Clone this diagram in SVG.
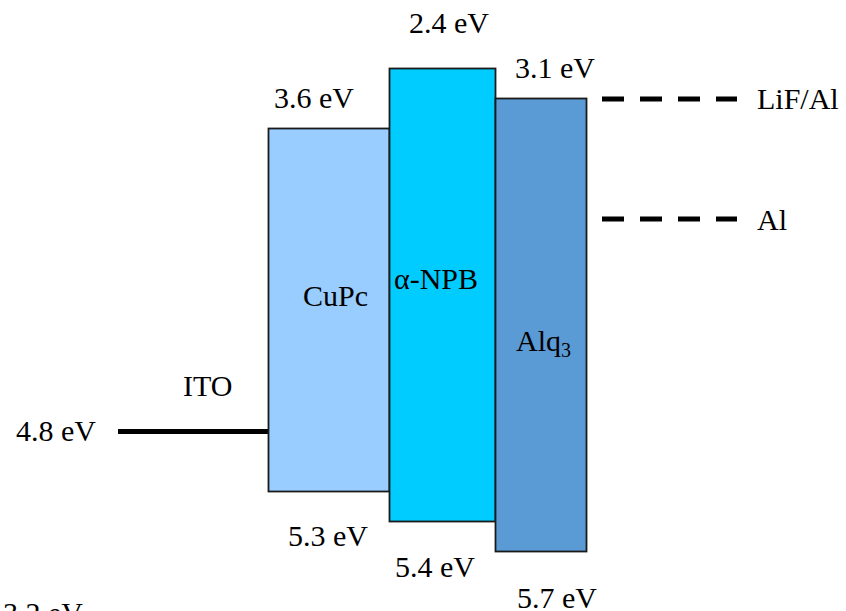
<svg xmlns="http://www.w3.org/2000/svg" width="846" height="611" viewBox="0 0 846 611" font-family="Liberation Serif, Times New Roman, serif">
<style>
text{font-family:'Liberation Serif','Times New Roman',serif;font-size:30px;fill:#000}
.sub{font-size:20px}
.box{stroke:#1a1a1a;stroke-width:1.8}
.dash{stroke:#000;stroke-width:5;stroke-dasharray:22 16;fill:none}
</style>
<rect width="846" height="611" fill="#fff"/>
<g id="connectors">
<line x1="118" y1="431.5" x2="268" y2="431.5" stroke="#000" stroke-width="5"/>
<line class="dash" x1="602" y1="99" x2="737" y2="99"/>
<line class="dash" x1="602" y1="219" x2="737" y2="219"/>
</g>
<g id="CuPc">
<rect class="box" x="268.5" y="128.5" width="121" height="363" fill="#99CCFF"/>
<text x="303" y="306">CuPc</text>
<text x="274" y="108">3.6 eV</text>
<text x="288" y="546">5.3 eV</text>
</g>
<g id="NPB">
<rect class="box" x="389.5" y="68.5" width="106" height="453" fill="#00CCFF"/>
<text x="394" y="289">α-NPB</text>
<text x="409" y="33">2.4 eV</text>
<text x="395" y="577">5.4 eV</text>
</g>
<g id="Alq3">
<rect class="box" x="495.5" y="98.5" width="91" height="453" fill="#5B9BD5"/>
<text x="516" y="351">Alq<tspan class="sub" dy="6">3</tspan></text>
<text x="515" y="78">3.1 eV</text>
<text x="517" y="608">5.7 eV</text>
</g>
<g id="ITO">
<text x="183" y="396">ITO</text>
<text x="16" y="441">4.8 eV</text>
</g>
<g id="LiFAl">
<text x="757" y="109">LiF/Al</text>
</g>
<g id="Al">
<text x="757" y="230">Al</text>
</g>
<g id="extra">
<text x="3" y="623">3.2 eV</text>
</g>
</svg>
